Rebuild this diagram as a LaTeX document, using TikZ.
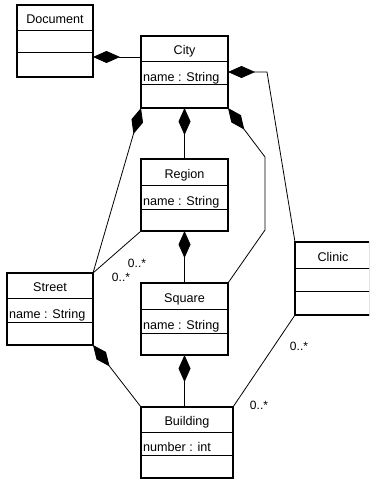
\documentclass[tikz,border=0pt]{standalone}
\usepackage{fontspec}
\setmainfont{Liberation Sans}
\usetikzlibrary{arrows.meta,shadows}
\newcommand\umlclass[9]{%
  \node[box, minimum width={(#4-#2)*1pt}, minimum height={(#5-#3)*1pt}] (#1) at ({(#2+#4)/2},{(#3+#5)/2}) {};
  \draw[div] (#2,#6) -- (#4,#6);
  \draw[div] (#2,#7) -- (#4,#7);
  \node[title] (#1-t) at ({(#2+#4)/2},{#6-7}) {#8};
  \node[attr] (#1-a) at ({#2+2},{#7-3.5}) {#9};
}
\begin{document}
\begin{tikzpicture}[x=1pt,y=-1pt,
  box/.style={draw, line width=1.1pt, fill=white, inner sep=0pt, outer sep=0pt,
    drop shadow={shadow xshift=1pt,shadow yshift=-1pt,fill=black,opacity=1}},
  div/.style={line width=1pt},
  title/.style={font=\fontsize{12.6}{14}\selectfont, inner sep=0pt, anchor=base},
  attr/.style={font=\fontsize{12.6}{14}\selectfont, inner sep=0pt, anchor=base west},
  conn/.style={line width=0.8pt},
  comp/.style={conn, {Diamond[length=27pt,width=12pt]}-},
  mult/.style={font=\fontsize{12}{14}\selectfont, inner sep=0pt}]
\useasboundingbox (0,0) rectangle (369,481);
\clip (0,0) rectangle (369,481);
\coordinate (b1) at (265,157);
\coordinate (b2) at (265,230);
\coordinate (b3) at (267,72);
\umlclass{Document}{17}{5}{93}{77}{31}{53}{Document}{}
\umlclass{City}{141}{36}{228}{108}{62}{85}{City}{name : String}
\umlclass{Region}{141}{159}{228}{231}{185}{209}{Region}{name : String}
\umlclass{Square}{141}{283}{228}{355}{309}{333}{Square}{name : String}
\umlclass{Street}{7}{273}{93}{345}{298}{322}{Street}{name : String}
\umlclass{Building}{141}{407}{233}{478}{432}{455}{Building}{number : int}
\umlclass{Clinic}{295}{242}{371}{315}{268}{291}{Clinic}{}
\draw[comp] (Document.east |- 0,57) -- (City.west |- 0,57);
\draw[comp] (City.south) -- (Region.north);
\draw[comp] (City.south west) -- (Street.north east);
\draw[comp] (City.south east) -- (b1) -- (b2) -- (Square.north east);
\draw[comp] (City.east) -- (b3) -- (Clinic.north west);
\draw[conn] (Region.south west) -- (Street.north east);
\draw[comp] (Region.south) -- (Square.north);
\draw[comp] (Square.south) -- (Square.south |- Building.north);
\draw[comp] (Street.south east) -- (Building.north west);
\draw[conn] (Clinic.south west) -- (Building.north east);
\node[mult] (m1) at (137,263) {0..*};
\node[mult] (m2) at (121,277) {0..*};
\node[mult] (m3) at (299,346) {0..*};
\node[mult] (m4) at (259,405) {0..*};
\end{tikzpicture}
\end{document}
